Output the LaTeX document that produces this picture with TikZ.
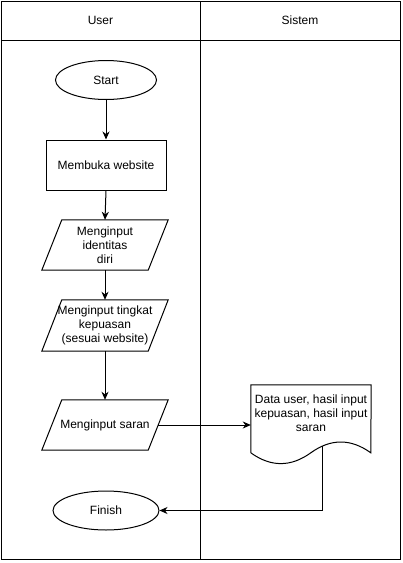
\documentclass[tikz,border=0pt]{standalone}
\usepackage{fontspec}
\setmainfont{Liberation Sans}
\usetikzlibrary{arrows.meta,shapes.geometric,positioning,calc}
\begin{document}
\begin{tikzpicture}[x=1pt,y=-1pt,
  every node/.style={font=\fontsize{12}{14}\selectfont, align=center, inner sep=0pt},
  line/.style={line width=1pt, draw=black},
  term/.style={ellipse, line, minimum width=101pt, minimum height=39pt},
  procbox/.style={rectangle, line, minimum width=120pt, minimum height=50pt},
  iobox/.style={rectangle, minimum width=126pt, minimum height=50pt},
  docbox/.style={rectangle, minimum width=120pt, minimum height=80pt},
  flow/.style={line, -{Stealth[length=8pt,width=7pt,inset=2.5pt]}},
  conn/.style={line}
]
\useasboundingbox (0,0) rectangle (403,563);
% swimlanes
\draw[line] (1,1) rectangle (400,559.5);
\draw[line] (1,40) -- (400,40);
\draw[line] (200,1) -- (200,559.5);
\node (laneU) at (100.5,20.5) {User};
\node (laneS) at (300,20.5) {Sistem};

% nodes
\node[term] (start) at (106,80) {Start};
\node[procbox] (web) at (106,165) {Membuka website};
\node[iobox] (p1) at (105,245) {Menginput\\identitas\\diri};
\node[iobox, minimum height=51pt] (p2) at (105,325.5) {Menginput tingkat\\kepuasan\\(sesuai website)};
\node[iobox] (p3) at (105,425) {Menginput saran};
\node[docbox] (doc) at (311,425) {};
\node (doctext) at (311,413) {Data user, hasil input\\kepuasan, hasil input\\saran};
\node[term, minimum width=106pt] (fin) at (106,510.5) {Finish};

% parallelogram outlines
\foreach \p in {p1,p2,p3}{
  \draw[line, line join=miter] ($(\p.north west)+(20,0)$) -- (\p.north east) -- ($(\p.south east)+(-20,0)$) -- (\p.south west) -- cycle;
}
% document outline (w=120, h=80)
\coordinate (dA) at ($(doc.north west)+(0,68)$);
\coordinate (dM) at ($(doc.north west)+(60,68)$);
\coordinate (dB) at ($(doc.north west)+(120,68)$);
\coordinate (dOut) at ($(doc.north west)+(72,61)$);
\draw[line, line join=miter] (dA) -- (doc.north west) -- (doc.north east) -- (dB)
  .. controls ($(doc.north west)+(100,53.6)$) and ($(doc.north west)+(80,53.6)$) .. (dM)
  .. controls ($(doc.north west)+(40,82.4)$) and ($(doc.north west)+(20,82.4)$) .. (dA);

% connectors
\draw[flow] (start.south) -- (web.north);
\draw[flow] (web.south) -- (p1.north);
\draw[flow] (p1.south) -- (p2.north);
\draw[flow] (p2.south) -- (p3.north);
\draw[flow] ($(p3.east)+(-10,0)$) -- (doc.west);
\draw[flow] (dOut) |- (fin.east);
\end{tikzpicture}
\end{document}
